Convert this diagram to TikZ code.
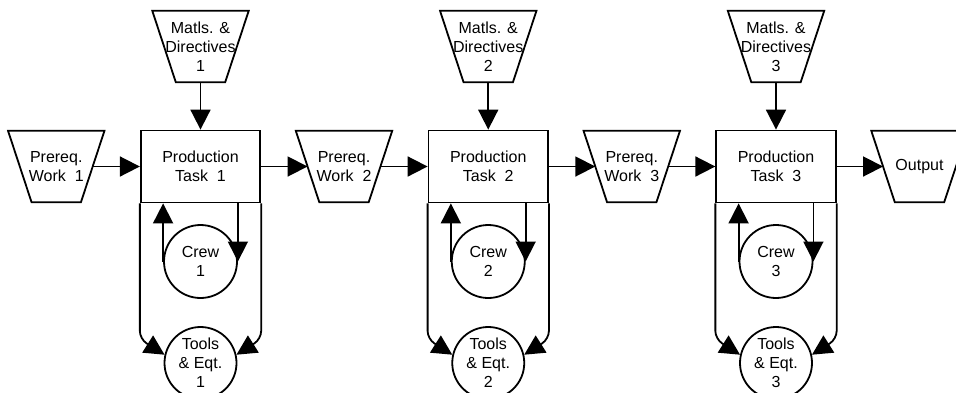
\documentclass[tikz,border=0pt]{standalone}
\usepackage{fontspec}
\setmainfont{Liberation Sans}
\usetikzlibrary{arrows.meta,calc}
\newcommand\trapshape[1]{\draw[ln,line join=miter] ([xshift=-11.75pt]#1.north west) -- ([xshift=11.75pt]#1.north east) -- ([xshift=-11.75pt]#1.south east) -- ([xshift=11.75pt]#1.south west) -- cycle;}
\begin{document}
\begin{tikzpicture}[x=1pt,y=-1pt,
  ln/.style={line width=1.8pt},
  arr/.style={ln,-{Triangle[length=20pt,width=20pt]}},
  trap/.style={minimum width=72.5pt,minimum height=71pt,inner sep=0pt,align=center},
  task/.style={draw,ln,minimum width=119.5pt,minimum height=72pt,inner sep=0pt,align=center},
  res/.style={draw,ln,circle,inner sep=0pt,align=center},
  font=\fontsize{16}{19}\selectfont]
\path[use as bounding box,clip] (0,0) rectangle (956,392);
\foreach \i/\x in {1/200.5,2/488.25,3/776}{
  \node[task] (t\i) at (\x,166.5) {Production\\Task\ \ \i};
  \node[trap] (m\i) at (\x,46.5) {Matls. \&\\Directives\\\i};
  \node[trap] (p\i) at (\x-144.25,166.5) {Prereq.\\Work\ \ \i};
  \node[res,minimum size=73pt] (c\i) at (\x,261.5) {Crew\\\i};
  \node[res,minimum size=72pt] (e\i) at (\x,363) {Tools\\\& Eqt.\\\i};
  \trapshape{m\i}
  \trapshape{p\i}
  \draw[arr] (m\i.south) -- (t\i.north);
  \draw[arr] (p\i.east) -- (t\i.west);
  \draw[arr] (c\i.west) -- (c\i.west |- t\i.south);
  \draw[arr] (c\i.east |- t\i.south) -- (c\i.east);
  \draw[arr,rounded corners=8pt] (t\i.south west) -- ($(t\i.south west |- e\i.north)+(0,13)$) -- (e\i.167);
  \draw[arr,rounded corners=8pt] (t\i.south east) -- ($(t\i.south east |- e\i.north)+(0,13)$) -- (e\i.13);
}
\node[trap] (out) at (919.5,166.5) {Output};
\trapshape{out}
\draw[arr] (t1.east) -- (p2.west);
\draw[arr] (t2.east) -- (p3.west);
\draw[arr] (t3.east) -- (out.west);
\end{tikzpicture}
\end{document}
